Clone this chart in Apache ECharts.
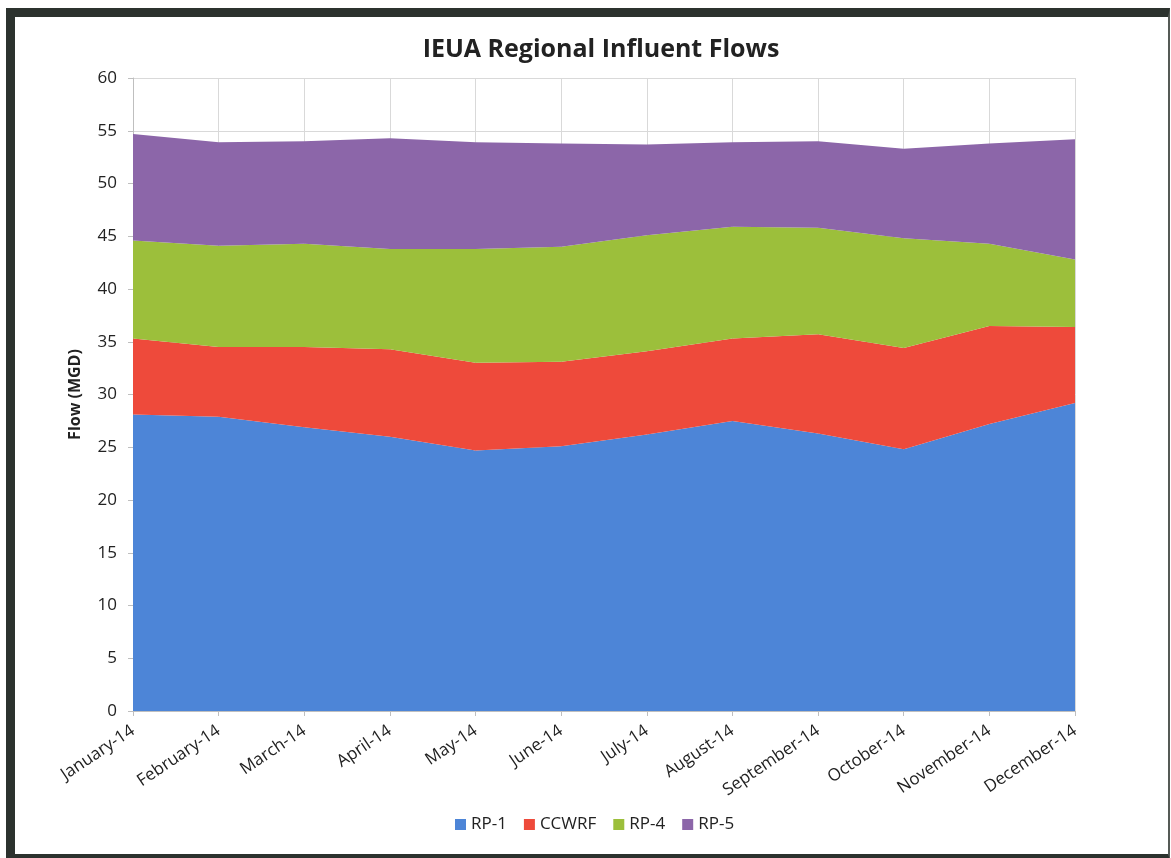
<!DOCTYPE html>
<html>
<head>
<meta charset="utf-8">
<script src="https://cdn.jsdelivr.net/npm/echarts@6/dist/echarts.min.js"></script>
<style>
html,body{margin:0;padding:0;background:#fff;}
#chart{position:absolute;left:0;top:0;width:1171px;height:858px;}
#frame{position:absolute;left:6px;top:8px;width:1164px;height:852px;box-sizing:border-box;
border-left:9px solid #2c322e;border-top:9px solid #2c322e;border-right:2px solid #555a56;border-bottom:6px solid #2c322e;pointer-events:none;}
</style>
</head>
<body>
<div id="chart"></div>
<div id="frame"></div>
<script>
const categories = ['January-14','February-14','March-14','April-14','May-14','June-14','July-14','August-14','September-14','October-14','November-14','December-14'];
const rp1   = [28.1, 27.9, 26.9, 26.0, 24.7, 25.1, 26.2, 27.5, 26.3, 24.8, 27.2, 29.2];
const ccwrf = [7.2, 6.6, 7.6, 8.3, 8.3, 8.0, 7.9, 7.8, 9.4, 9.6, 9.3, 7.2];
const rp4   = [9.3, 9.6, 9.8, 9.5, 10.8, 10.9, 11.0, 10.6, 10.1, 10.4, 7.8, 6.4];
const rp5   = [10.1, 9.8, 9.7, 10.5, 10.1, 9.8, 8.6, 8.0, 8.2, 8.5, 9.5, 11.4];
const yTicks = [0,5,10,15,20,25,30,35,40,45,50,55,60];

const FONT = '"Open Sans", "Noto Sans", sans-serif';
const colors = ['#4d85d7', '#ee4a3b', '#9cbf3b', '#8c66a9'];
function mk(name, data, i){
  return {name, type:'line', stack:'total', data, symbol:'none',
    lineStyle:{width:0}, areaStyle:{color:colors[i], opacity:1}, itemStyle:{color:colors[i]}};
}
const chart = echarts.init(document.getElementById('chart'), null, {renderer:'canvas'});
chart.setOption({
  animation:false,
  color: colors,
  title:{text:'IEUA Regional Influent Flows', left:596, top:32, textAlign:'center',
    textStyle:{fontFamily:FONT, fontWeight:'bold', fontSize:25, color:'#222'}},
  legend:{bottom:20, left:450, itemWidth:11, itemHeight:11, itemGap:17, icon:'rect',
    textStyle:{fontFamily:FONT, fontSize:17, color:'#222'},
    data:['RP-1','CCWRF','RP-4','RP-5']},
  grid:{left:133, right:96, top:78, bottom:147},
  xAxis:{type:'category', data:categories, boundaryGap:false,
    axisLine:{lineStyle:{color:'#bfbfbf'}},
    axisTick:{show:true, interval:0, length:5, lineStyle:{color:'#bfbfbf'}},
    splitLine:{show:true, interval:0, lineStyle:{color:'#d9d9d9'}},
    axisLabel:{interval:0, rotate:34, margin:18, fontFamily:FONT, fontSize:17, color:'#222'}},
  yAxis:{type:'value', min:yTicks[0], max:yTicks[yTicks.length-1], interval:5,
    name:'Flow (MGD)', nameLocation:'middle', nameGap:50,
    nameTextStyle:{fontFamily:FONT, fontWeight:'bold', fontSize:16, color:'#222'},
    axisLine:{show:true, lineStyle:{color:'#bfbfbf'}},
    axisTick:{show:true, length:5, lineStyle:{color:'#bfbfbf'}},
    splitLine:{show:true, lineStyle:{color:'#d9d9d9'}},
    axisLabel:{margin:16, fontFamily:FONT, fontSize:17, color:'#222'}},
  series:[mk('RP-1', rp1, 0), mk('CCWRF', ccwrf, 1), mk('RP-4', rp4, 2), mk('RP-5', rp5, 3)]
});
</script>
</body>
</html>
